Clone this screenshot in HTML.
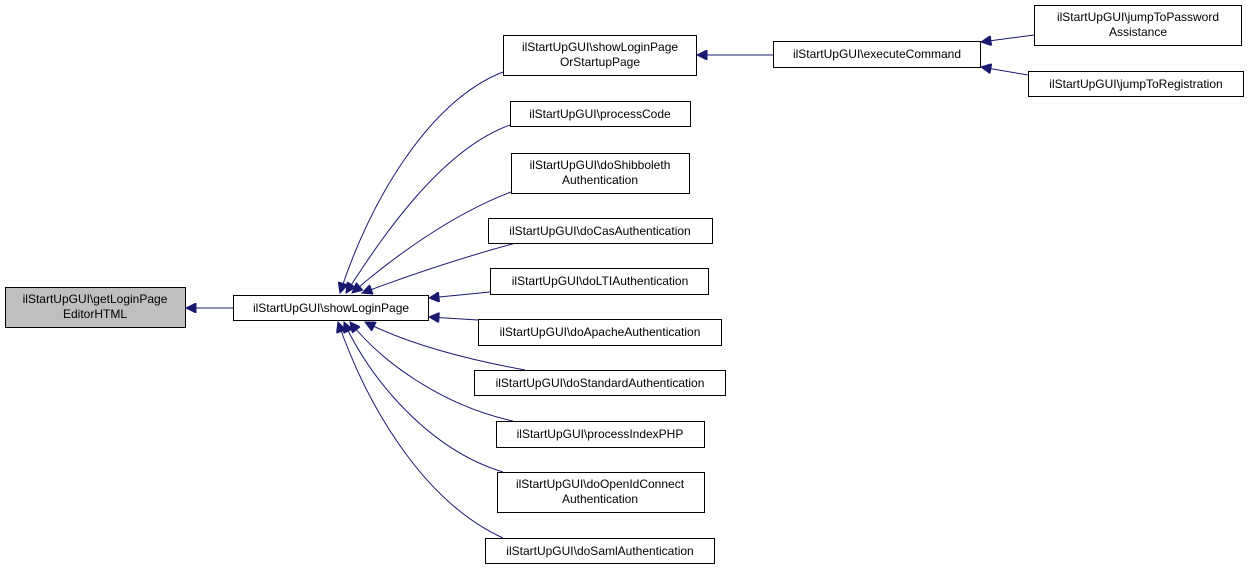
<!DOCTYPE html>
<html><head><meta charset="utf-8"><style>
html,body{margin:0;padding:0;background:#fff;}
svg{display:block}
text{font-family:"Liberation Sans",sans-serif;font-size:12px;fill:#000;text-anchor:middle}
.b{fill:#fff;stroke:#000;stroke-width:1}
.e{fill:none;stroke:#191970;stroke-width:1}
.a{fill:#191970;stroke:#191970}
</style></head><body>
<svg width="1248" height="570" viewBox="0 0 1248 570">
<defs><marker id="m" viewBox="0 0 10 10" refX="10" refY="5" markerWidth="13" markerHeight="10" markerUnits="userSpaceOnUse" orient="auto"><path d="M0,0 L10,5 L0,10 z" class="a"/></marker></defs>
<!-- edges -->
<path class="e" marker-end="url(#m)" d="M233,308 L186,308"/>
<path class="e" marker-end="url(#m)" d="M503,72 C430,100 370,200 340,293"/>
<path class="e" marker-end="url(#m)" d="M510,125 C440,150 380,240 346,293"/>
<path class="e" marker-end="url(#m)" d="M511,192 C450,215 390,260 352,293"/>
<path class="e" marker-end="url(#m)" d="M516,243 C460,258 410,275 362,293"/>
<path class="e" marker-end="url(#m)" d="M490,292 L429,298"/>
<path class="e" marker-end="url(#m)" d="M478,320 L429,317"/>
<path class="e" marker-end="url(#m)" d="M525,370 C470,360 410,345 365,322"/>
<path class="e" marker-end="url(#m)" d="M513,421 C440,405 380,360 350,322"/>
<path class="e" marker-end="url(#m)" d="M503,472 C430,450 370,380 344,322"/>
<path class="e" marker-end="url(#m)" d="M503,538 C420,500 365,400 338,322"/>
<path class="e" marker-end="url(#m)" d="M773,55 L697,55"/>
<path class="e" marker-end="url(#m)" d="M1034,35 L981,42"/>
<path class="e" marker-end="url(#m)" d="M1028,75 L981,67"/>
<!-- nodes -->
<rect x="5.5" y="287.5" width="180" height="40" fill="#bfbfbf" stroke="#000"/>
<text x="95" y="303">ilStartUpGUI\getLoginPage</text><text x="95" y="318">EditorHTML</text>
<rect class="b" x="233.5" y="295.5" width="195" height="25"/>
<text x="331" y="312">ilStartUpGUI\showLoginPage</text>
<rect class="b" x="503.5" y="35.5" width="193" height="40"/>
<text x="600" y="51">ilStartUpGUI\showLoginPage</text><text x="600" y="66">OrStartupPage</text>
<rect class="b" x="510.5" y="101.5" width="180" height="25"/>
<text x="600" y="118">ilStartUpGUI\processCode</text>
<rect class="b" x="511.5" y="153.5" width="178" height="40"/>
<text x="600" y="169">ilStartUpGUI\doShibboleth</text><text x="600" y="184">Authentication</text>
<rect class="b" x="488.5" y="218.5" width="224" height="25"/>
<text x="600" y="235">ilStartUpGUI\doCasAuthentication</text>
<rect class="b" x="490.5" y="268.5" width="218" height="26"/>
<text x="600" y="285">ilStartUpGUI\doLTIAuthentication</text>
<rect class="b" x="478.5" y="319.5" width="243" height="26"/>
<text x="600" y="336">ilStartUpGUI\doApacheAuthentication</text>
<rect class="b" x="474.5" y="370.5" width="251" height="25"/>
<text x="600" y="387">ilStartUpGUI\doStandardAuthentication</text>
<rect class="b" x="496.5" y="421.5" width="208" height="26"/>
<text x="600" y="438">ilStartUpGUI\processIndexPHP</text>
<rect class="b" x="497.5" y="472.5" width="207" height="40"/>
<text x="600" y="488">ilStartUpGUI\doOpenIdConnect</text><text x="600" y="503">Authentication</text>
<rect class="b" x="485.5" y="538.5" width="229" height="25"/>
<text x="600" y="555">ilStartUpGUI\doSamlAuthentication</text>
<rect class="b" x="773.5" y="41.5" width="207" height="26"/>
<text x="877" y="58">ilStartUpGUI\executeCommand</text>
<rect class="b" x="1034.5" y="5.5" width="207" height="40"/>
<text x="1138" y="21">ilStartUpGUI\jumpToPassword</text><text x="1138" y="36">Assistance</text>
<rect class="b" x="1028.5" y="71.5" width="215" height="25"/>
<text x="1136" y="88">ilStartUpGUI\jumpToRegistration</text>
</svg>
</body></html>
